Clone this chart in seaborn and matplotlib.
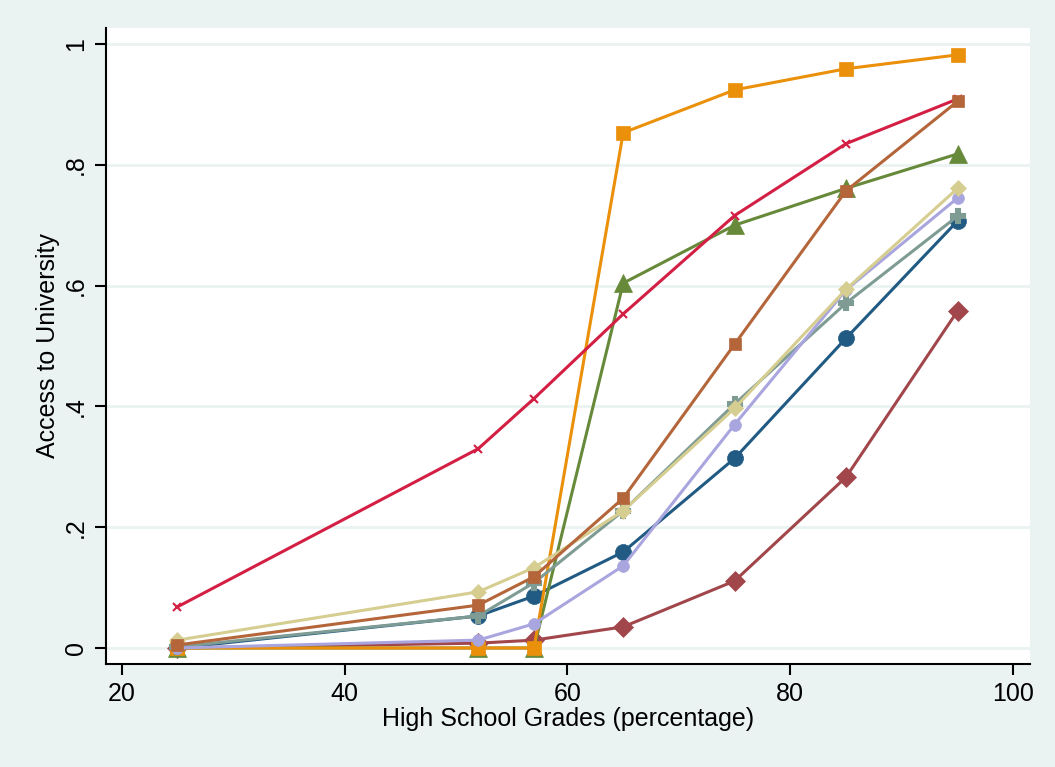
import numpy as np
import pandas as pd
import matplotlib
matplotlib.use("Agg")
import matplotlib.pyplot as plt
import seaborn as sns

# grade bins (x) shared by every series
grades = [25, 52, 57, 65, 75, 85, 95]

navy_vals = [0.000, 0.053, 0.086, 0.159, 0.314, 0.513, 0.707]
maroon_vals = [0.000, 0.008, 0.013, 0.035, 0.111, 0.283, 0.558]
green_vals = [0.000, 0.000, 0.000, 0.604, 0.700, 0.761, 0.818]
orange_vals = [0.000, 0.000, 0.000, 0.853, 0.924, 0.959, 0.982]
teal_vals = [0.002, 0.053, 0.108, 0.227, 0.404, 0.571, 0.715]
cranberry_vals = [0.068, 0.330, 0.413, 0.553, 0.716, 0.835, 0.909]
lavender_vals = [0.000, 0.013, 0.040, 0.136, 0.370, 0.593, 0.745]
khaki_vals = [0.013, 0.093, 0.133, 0.227, 0.397, 0.594, 0.761]
sienna_vals = [0.005, 0.071, 0.118, 0.248, 0.503, 0.757, 0.905]

yticks = [0, 0.2, 0.4, 0.6, 0.8, 1.0]
ytick_labels = ["0", ".2", ".4", ".6", ".8", "1"]
xticks = [20, 40, 60, 80, 100]

# (values, colour, marker, markersize) in Stata drawing order
series = [
    (navy_vals, "#215A83", "o", 11.5),
    (maroon_vals, "#A1464B", "D", 10),
    (green_vals, "#678A3A", "^", 12.5),
    (orange_vals, "#EB900A", "s", 10.5),
    (teal_vals, "#7E9C94", "P", 9.5),
    (cranberry_vals, "#D41F45", "x", 6),
    (lavender_vals, "#A9A5DE", "o", 8.5),
    (khaki_vals, "#D6CD91", "D", 8),
    (sienna_vals, "#B4663A", "s", 8.5),
]

bg = "#EAF2F2"
sns.set_theme(style="white")
plt.rcParams["font.family"] = ["Liberation Sans", "DejaVu Sans"]

fig = plt.figure(figsize=(10.55, 7.67), dpi=100, facecolor=bg)
ax = fig.add_axes([0.1005, 0.1343, 0.8758, 0.8292])
ax.set_facecolor("white")

for vals, color, marker, ms in series:
    df = pd.DataFrame({"grade": grades, "access": vals})
    sns.lineplot(data=df, x="grade", y="access", ax=ax, color=color, linewidth=2.2,
                 marker=marker, markersize=ms, markeredgecolor=color,
                 markeredgewidth=1.5 if marker in ("x", "P") else 0.5)

for yv in yticks:
    ax.axhline(yv, color=bg, linewidth=2, zorder=0)

ax.set_xlim(18.6, 101.5)
ax.set_ylim(-0.0265, 1.0265)
ax.set_xticks(xticks)
ax.set_yticks(yticks)
ax.set_yticklabels(ytick_labels, rotation=90, va="center")
ax.tick_params(axis="both", direction="out", length=8, width=1.5, labelsize=18,
               colors="black", labelcolor="black", bottom=True, left=True, pad=5)

for side in ("top", "right"):
    ax.spines[side].set_visible(False)
for side in ("left", "bottom"):
    ax.spines[side].set_color("black")
    ax.spines[side].set_linewidth(1.5)

ax.set_xlabel("High School Grades (percentage)", fontsize=18, color="black", labelpad=1)
ax.set_ylabel("Access to University", fontsize=18, color="black", labelpad=3)

fig.savefig("out.png", dpi=100, facecolor=bg)
